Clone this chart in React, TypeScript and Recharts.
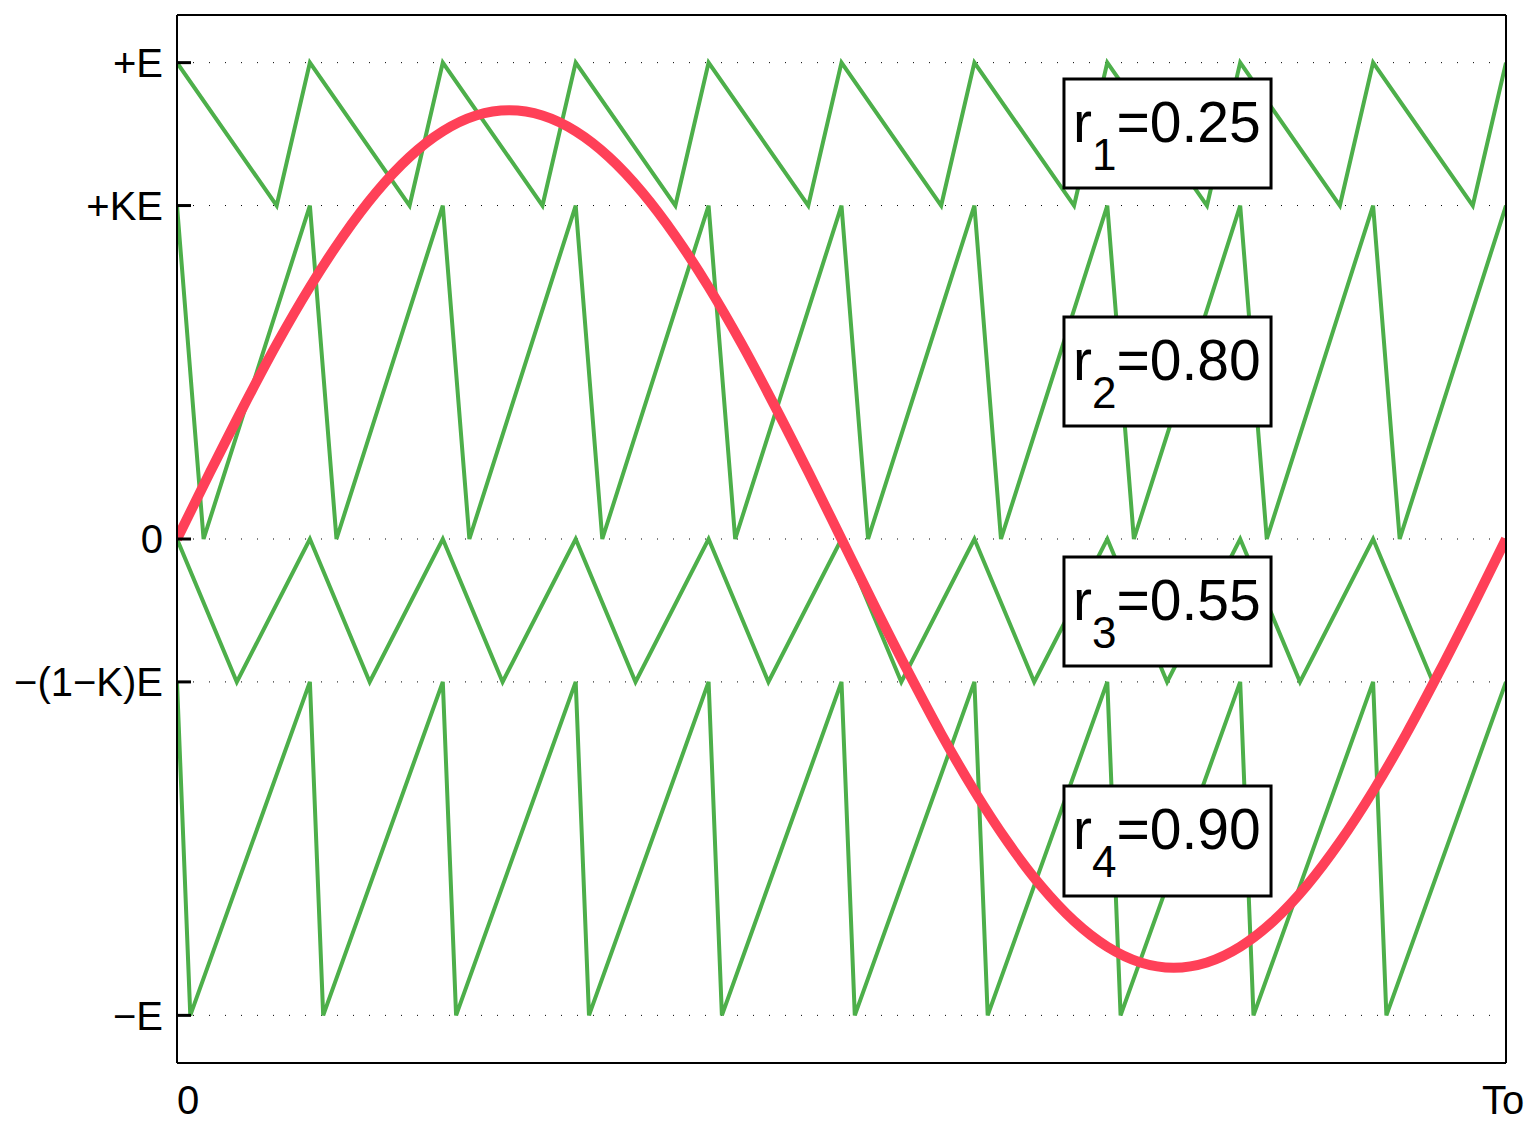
import React from "react";
import { LineChart, Line, XAxis, YAxis, CartesianGrid, ReferenceArea } from "recharts";

const FONT = '"Liberation Sans", Arial, Helvetica, sans-serif';
const GREEN = "#4DAF4A";
const RED = "#FF4058";

// y axis: levels in units of E (K = 0.7)
const yTicks = [-1, -0.3, 0, 0.7, 1];
const yTickLabels = ["\u2212E", "\u2212(1\u2212K)E", "0", "+KE", "+E"];
const xTicks = [0, 1];
const xTickLabels = ["0", "To"];

// carriers: all return to the band top at these instants
const carrierPeakTimes = [0, 0.1, 0.2, 0.3, 0.4, 0.5, 0.6, 0.7, 0.8, 0.9, 1.0];
const r1Troughs = [0.075, 0.175, 0.275, 0.375, 0.475, 0.575, 0.675, 0.775, 0.875, 0.975];
const r2Troughs = [0.02, 0.12, 0.22, 0.32, 0.42, 0.52, 0.62, 0.72, 0.82, 0.92];
const r3Troughs = [0.045, 0.145, 0.245, 0.345, 0.445, 0.545, 0.645, 0.745, 0.845, 0.945];
const r4Troughs = [0.01, 0.11, 0.21, 0.31, 0.41, 0.51, 0.61, 0.71, 0.81, 0.91];
const bandTop = [1, 0.7, 0, -0.3];
const bandBottom = [0.7, 0, -0.3, -1];

// reference (modulating) wave
const sineTime = [
	0, 0.025, 0.05, 0.075, 0.1, 0.125, 0.15, 0.175, 0.2, 0.225, 0.25, 0.275, 0.3, 0.325, 0.35, 0.375, 0.4, 0.425,
	0.45, 0.475, 0.5, 0.525, 0.55, 0.575, 0.6, 0.625, 0.65, 0.675, 0.7, 0.725, 0.75, 0.775, 0.8, 0.825, 0.85, 0.875,
	0.9, 0.925, 0.95, 0.975, 1,
];
const sineValue = [
	0, 0.141, 0.278, 0.409, 0.529, 0.636, 0.728, 0.802, 0.856, 0.889, 0.9, 0.889, 0.856, 0.802, 0.728, 0.636, 0.529,
	0.409, 0.278, 0.141, 0, -0.141, -0.278, -0.409, -0.529, -0.636, -0.728, -0.802, -0.856, -0.889, -0.9, -0.889,
	-0.856, -0.802, -0.728, -0.636, -0.529, -0.409, -0.278, -0.141, 0,
];

// annotation boxes
const boxSubs = ["1", "2", "3", "4"];
const boxValues = ["0.25", "0.80", "0.55", "0.90"];
const boxTop = [0.9656, 0.466, -0.0378, -0.5185];
const boxBottom = [0.7369, 0.2372, -0.2666, -0.7494];
const boxLeft = 0.6674;
const boxRight = 0.8232;

const troughs = [r1Troughs, r2Troughs, r3Troughs, r4Troughs];
const carriers = troughs.map((tr, b) => {
	const pts: { x: number; y: number }[] = [];
	carrierPeakTimes.forEach((t, i) => {
		pts.push({ x: t, y: bandTop[b] });
		if (i < tr.length) pts.push({ x: tr[i], y: bandBottom[b] });
	});
	return pts;
});
const sineData = sineTime.map((t, i) => ({ x: t, y: sineValue[i] }));

const XTick = ({ x, y, payload }: any) => {
	const i = xTicks.indexOf(payload.value);
	const dx = i === 0 ? 11 : -3;
	return (
		<text x={x + dx} y={y + 51} textAnchor='middle' fontSize={40} fontFamily={FONT} fill='#000'>
			{xTickLabels[i]}
		</text>
	);
};

const boxLabel = (sub: string, value: string) => (props: any) => {
	const vb = props.viewBox;
	if (!vb) return null;
	return (
		<text x={vb.x + 9} y={vb.y + 63} fontSize={57} fontFamily={FONT} fill='#000'>
			<tspan>r</tspan>
			<tspan fontSize={44} dy={28}>
				{sub}
			</tspan>
			<tspan dy={-28}>={value}</tspan>
		</text>
	);
};

export default function App() {
	const axisLine = { stroke: "#000", strokeWidth: 2 };
	return (
		<div style={{ position: "absolute", left: 0, top: 0, width: 1540, height: 1128, background: "#fff" }}>
			<LineChart width={1540} height={1128} margin={{ top: 0, right: 0, bottom: 0, left: 0 }}>
				<CartesianGrid vertical={false} stroke='#000' strokeDasharray='1 15' />
				<XAxis
					dataKey='x'
					type='number'
					domain={[0, 1]}
					ticks={xTicks}
					height={65}
					axisLine={axisLine}
					tickLine={false}
					tickSize={0}
					tickMargin={0}
					tick={<XTick />}
					allowDataOverflow
				/>
				<XAxis
					xAxisId='top'
					orientation='top'
					dataKey='x'
					type='number'
					domain={[0, 1]}
					ticks={xTicks}
					height={15}
					axisLine={axisLine}
					tickLine={false}
					tick={false}
				/>
				<YAxis
					type='number'
					domain={[-1.1, 1.1]}
					ticks={yTicks}
					width={177}
					axisLine={axisLine}
					tickLine={{ stroke: "#000", strokeWidth: 3 }}
					tickSize={-14}
					tickMargin={28}
					tickFormatter={(v: number) => yTickLabels[yTicks.indexOf(v)]}
					tick={{ fontSize: 40, fontFamily: FONT, fill: "#000" }}
					allowDataOverflow
				/>
				<YAxis
					yAxisId='right'
					orientation='right'
					type='number'
					domain={[-1.1, 1.1]}
					ticks={yTicks}
					width={34}
					axisLine={axisLine}
					tickLine={{ stroke: "#000", strokeWidth: 3 }}
					tickSize={-14}
					tick={false}
				/>
				{carriers.map((pts, i) => (
					<Line
						key={`carrier-${i}`}
						data={pts}
						dataKey='y'
						type='linear'
						stroke={GREEN}
						strokeWidth={4}
						dot={false}
						activeDot={false}
						isAnimationActive={false}
					/>
				))}
				<Line
					data={sineData}
					dataKey='y'
					type='monotone'
					stroke={RED}
					strokeWidth={10}
					dot={false}
					activeDot={false}
					isAnimationActive={false}
				/>
				{boxSubs.map((s, i) => (
					<ReferenceArea
						key={`box-${i}`}
						x1={boxLeft}
						x2={boxRight}
						y1={boxBottom[i]}
						y2={boxTop[i]}
						fill='#fff'
						fillOpacity={1}
						stroke='#000'
						strokeWidth={3}
						zIndex={1000}
						label={boxLabel(s, boxValues[i])}
					/>
				))}
			</LineChart>
		</div>
	);
}
